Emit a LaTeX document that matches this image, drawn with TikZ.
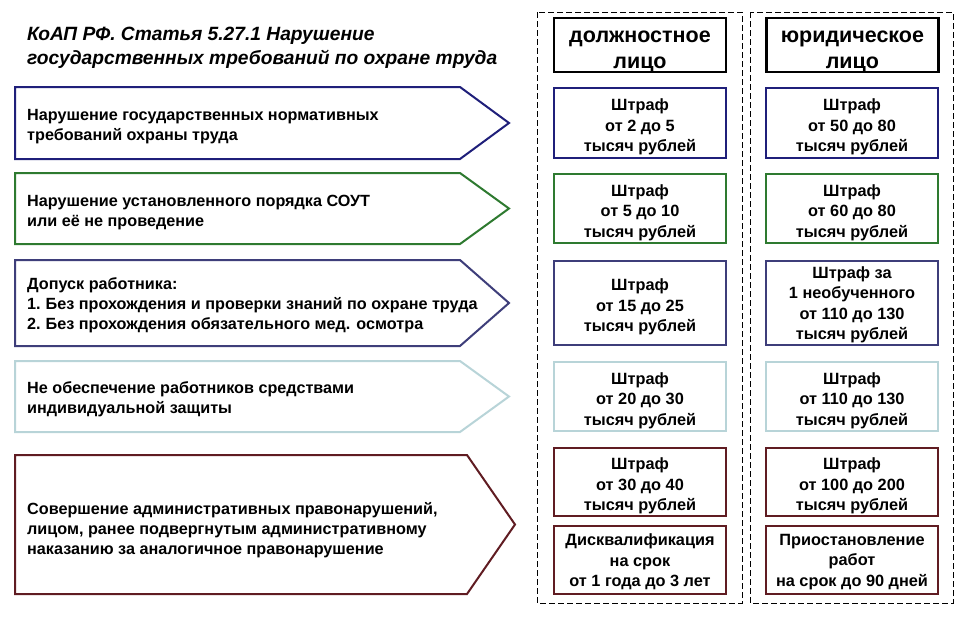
\documentclass[tikz,border=0pt]{standalone}
\usepackage{fontspec}
\setmainfont{Liberation Sans}
\usetikzlibrary{positioning}
\definecolor{rowone}{RGB}{31,31,122}
\definecolor{rowtwo}{RGB}{46,122,48}
\definecolor{rowthree}{RGB}{62,62,122}
\definecolor{rowfour}{RGB}{184,212,216}
\definecolor{rowfive}{RGB}{96,28,34}

\begin{document}
\begin{tikzpicture}[x=1pt, y=-1pt,
    rowtext/.style={anchor=west, align=left, inner sep=0pt, font=\fontsize{16.2}{20}\selectfont\bfseries},
    arrowrow/.style={line width=2pt, line join=miter, fill=white},
    finebox/.style={draw, line width=2pt, fill=white, minimum width=172pt, inner sep=0pt},
    finetext/.style={align=center, inner sep=0pt, font=\fontsize{16.3}{20.5}\selectfont\bfseries},
    headbox/.style={draw, line width=2.4pt, fill=white, minimum width=172pt, minimum height=54pt, inner sep=0pt},
    headtext/.style={align=center, inner sep=0pt, font=\fontsize{21.5}{26}\selectfont\bfseries},
    column/.style={draw, line width=0.8pt, dash pattern=on 6pt off 3pt}]
    \useasboundingbox (0,0) rectangle (971,616);

    % title
    \node[anchor=north west, align=left, inner sep=0pt, font=\fontsize{19.2}{24}\selectfont\bfseries\itshape] (title) at (27,27) {КоАП РФ. Статья 5.27.1 Нарушение\\государственных требований по охране труда};

    % columns
    \draw[column] (537,12) rectangle (742,603);
    \draw[column] (750,12) rectangle (953,603);
    \node[headbox] (headofficial) at (640,45) {};
    \node[headtext] (headofficialtext) at ([yshift=-7pt]headofficial) {должностное\\лицо};
    \node[headbox, right=38pt of headofficial] (headlegal) {};
    \node[headtext] (headlegaltext) at ([yshift=-7pt]headlegal) {юридическое\\лицо};

    % violations
    \draw[arrowrow, draw=rowone] (15,87) -- (460,87) -- (509,123) -- (460,159) -- (15,159) -- cycle;
    \node[rowtext] (viol1) at (27,127) {Нарушение государственных нормативных\\требований охраны труда};
    \draw[arrowrow, draw=rowtwo] (15,173) -- (460,173) -- (509,208.5) -- (460,244) -- (15,244) -- cycle;
    \node[rowtext] (viol2) at (27,213) {Нарушение установленного порядка СОУТ\\или её не проведение};
    \draw[arrowrow, draw=rowthree] (15,260) -- (460,260) -- (509,303) -- (460,346) -- (15,346) -- cycle;
    \node[rowtext] (viol3) at (27,305.5) {Допуск работника:\\1.\hspace{5pt}Без прохождения и проверки знаний по охране труда\\2.\hspace{5pt}Без прохождения обязательного мед. осмотра};
    \draw[arrowrow, draw=rowfour] (15,361) -- (460,361) -- (509,396.5) -- (460,432) -- (15,432) -- cycle;
    \node[rowtext] (viol4) at (27,399.5) {Не обеспечение работников средствами\\индивидуальной защиты};
    \draw[arrowrow, draw=rowfive] (15,455) -- (467,455) -- (515,524.5) -- (467,594) -- (15,594) -- cycle;
    \node[rowtext] (viol5) at (27,530) {Совершение административных правонарушений,\\лицом, ранее подвергнутым административному\\наказанию за аналогичное правонарушение};

    % fines, official
    \node[finebox, draw=rowone, minimum height=70pt] (off1) at (640,123) {};
    \node[finetext] (off1text) at ([yshift=-4pt]off1) {Штраф\\от 2 до 5\\тысяч рублей};
    \node[finebox, draw=rowtwo, minimum height=69pt] (off2) at (640,208.5) {};
    \node[finetext] (off2text) at ([yshift=-4pt]off2) {Штраф\\от 5 до 10\\тысяч рублей};
    \node[finebox, draw=rowthree, minimum height=84pt] (off3) at (640,303) {};
    \node[finetext] (off3text) at ([yshift=-4pt]off3) {Штраф\\от 15 до 25\\тысяч рублей};
    \node[finebox, draw=rowfour, minimum height=69pt] (off4) at (640,396.5) {};
    \node[finetext] (off4text) at ([yshift=-4pt]off4) {Штраф\\от 20 до 30\\тысяч рублей};
    \node[finebox, draw=rowfive, minimum height=68pt] (off5) at (640,482) {};
    \node[finetext] (off5text) at ([yshift=-4pt]off5) {Штраф\\от 30 до 40\\тысяч рублей};
    \node[finebox, draw=rowfive, minimum height=68pt] (off6) at (640,560) {};
    \node[finetext] (off6text) at ([yshift=-2pt]off6) {Дисквалификация\\на срок\\от 1 года до 3 лет};

    % fines, legal
    \node[finebox, draw=rowone, minimum height=70pt, right=38pt of off1] (leg1) {};
    \node[finetext] (leg1text) at ([yshift=-4pt]leg1) {Штраф\\от 50 до 80\\тысяч рублей};
    \node[finebox, draw=rowtwo, minimum height=69pt, right=38pt of off2] (leg2) {};
    \node[finetext] (leg2text) at ([yshift=-4pt]leg2) {Штраф\\от 60 до 80\\тысяч рублей};
    \node[finebox, draw=rowthree, minimum height=84pt, right=38pt of off3] (leg3) {};
    \node[finetext] (leg3text) at ([yshift=-2pt]leg3) {Штраф за\\1 необученного\\от 110 до 130\\тысяч рублей};
    \node[finebox, draw=rowfour, minimum height=69pt, right=38pt of off4] (leg4) {};
    \node[finetext] (leg4text) at ([yshift=-4pt]leg4) {Штраф\\от 110 до 130\\тысяч рублей};
    \node[finebox, draw=rowfive, minimum height=68pt, right=38pt of off5] (leg5) {};
    \node[finetext] (leg5text) at ([yshift=-4pt]leg5) {Штраф\\от 100 до 200\\тысяч рублей};
    \node[finebox, draw=rowfive, minimum height=68pt, right=38pt of off6] (leg6) {};
    \node[finetext] (leg6text) at ([yshift=-2pt]leg6) {Приостановление\\работ\\на срок до 90 дней};
\end{tikzpicture}
\end{document}
